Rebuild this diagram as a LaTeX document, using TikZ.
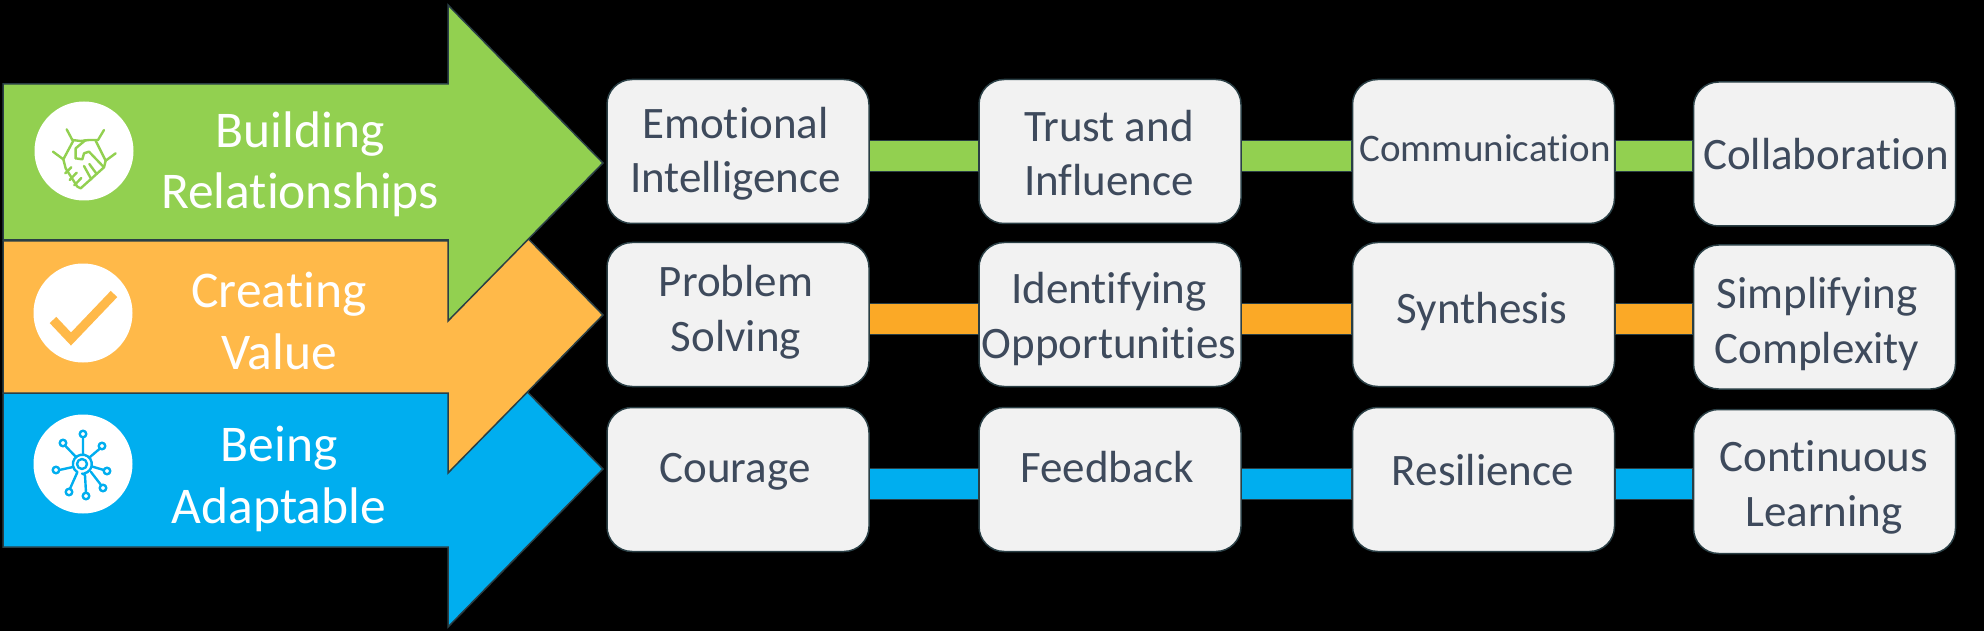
\documentclass[tikz,border=0pt]{standalone}
\usepackage{fontspec}
\setmainfont[Ligatures=NoCommon]{Carlito}
\definecolor{grn}{HTML}{92D050}
\definecolor{org}{HTML}{FFB949}
\definecolor{orgbar}{HTML}{FBA926}
\definecolor{blu}{HTML}{00AEEF}
\definecolor{edge}{HTML}{2A3F45}
\definecolor{boxf}{HTML}{F2F2F2}
\definecolor{boxt}{HTML}{3E4A5C}
\tikzset{
  arrowshape/.style={draw=edge,line width=1.5pt,line join=miter},
  card/.style={draw=edge,line width=1.5pt,fill=boxf,rounded corners=25pt,minimum width=262pt,minimum height=144pt,inner sep=0pt},
  linkbar/.style={draw=edge,line width=1pt},
  cardtext/.style={text=boxt,align=center,font=\fontsize{45}{54.5}\selectfont,inner sep=0pt,anchor=base},
  smalltext/.style={text=boxt,align=center,font=\fontsize{39}{44}\selectfont,inner sep=0pt,anchor=base},
  headtext/.style={text=white,align=center,font=\fontsize{51.5}{62}\selectfont,inner sep=0pt,anchor=base},
  disc/.style={fill=white,draw=none,circle,minimum size=99pt,inner sep=0pt},
  icon/.style={line width=2.4pt,line cap=round,line join=round},
}
\newcommand{\bararrow}[4]{%
  \path[arrowshape,fill=#1] (3,#2) -- (448,#2) -- (448,#4-158) -- (603,#4) -- (448,#4+158) -- (448,#3) -- (3,#3) -- cycle;}
\newcommand{\linkbar}[5]{%
  \coordinate (p#2#3) at (0,#4); \coordinate (q#2#3) at (0,#5);
  \path[linkbar,fill=#1] (#2.east |- p#2#3) rectangle (#3.west |- q#2#3);}
\begin{document}
\begin{tikzpicture}[x=1pt,y=-1pt]
\useasboundingbox (0,0) rectangle (1984,631);
\fill[black] (0,0) rectangle (1984,631);
% arrows, lowest first
\bararrow{blu}{393}{547}{469}
\bararrow{org}{241}{393}{315}
\bararrow{grn}{84}{240}{163}
% cards
\node[card] (a1) at (738,151.5) {};
\node[card] (b1) at (1110,151.5) {};
\node[card] (c1) at (1483.5,151.5) {};
\node[card] (d1) at (1824.5,154) {};
\node[card] (a2) at (738,314.5) {};
\node[card] (b2) at (1110,314.5) {};
\node[card] (c2) at (1483.5,314.5) {};
\node[card] (d2) at (1824.5,317) {};
\node[card] (a3) at (738,479.5) {};
\node[card] (b3) at (1110,479.5) {};
\node[card] (c3) at (1483.5,479.5) {};
\node[card] (d3) at (1824.5,481.5) {};
% connecting bars
\linkbar{grn}{a1}{b1}{141}{172}
\linkbar{grn}{b1}{c1}{141}{172}
\linkbar{grn}{c1}{d1}{141}{172}
\linkbar{orgbar}{a2}{b2}{303}{334}
\linkbar{orgbar}{b2}{c2}{303}{334}
\linkbar{orgbar}{c2}{d2}{303}{334}
\linkbar{blu}{a3}{b3}{468}{499}
\linkbar{blu}{b3}{c3}{468}{499}
\linkbar{blu}{c3}{d3}{468}{499}
% card texts (anchored on the baseline of the last line)
\node[cardtext] (ta1) at (735.5,193) {Emotional\\Intelligence};
\node[cardtext] (tb1) at (1109,196) {Trust and\\Influence};
\node[smalltext] (tc1) at (1485,162) {Communication};
\node[cardtext] (td1) at (1826,170) {Collaboration};
\node[cardtext] (ta2) at (736,351) {Problem\\Solving};
\node[cardtext] (tb2) at (1109,358) {Identifying\\Opportunities};
\node[cardtext] (tc2) at (1482,323) {Synthesis};
\node[cardtext] (td2) at (1817,363) {Simplifying\\Complexity};
\node[cardtext] (ta3) at (735,482) {Courage};
\node[cardtext] (tb3) at (1107,482) {Feedback};
\node[cardtext] (tc3) at (1483,485) {Resilience};
\node[cardtext] (td3) at (1824,526) {Continuous\\Learning};
% arrow titles
\node[headtext] (t1) at (300,209) {Building\\Relationships};
\node[headtext] (t2) at (279,369) {Creating\\Value};
\node[headtext] (t3) at (279,523) {Being\\Adaptable};
% icon discs
\node[disc] (i1) at (84,151) {};
\node[disc] (i2) at (83,313) {};
\node[disc] (i3) at (83,464) {};
% handshake
\begin{scope}[shift={(i1.center)},x=0.3333pt,y=-0.3333pt,shift={(-190,-183)},draw=grn,icon]
  \draw (138,118) -- (155,150) -- (180,153) -- (205,150) -- (232,150) -- (250,120);
  \draw (97,185) -- (128,208) -- (158,152);
  \draw (285,190) -- (255,212) -- (225,152);
  \draw (165,205) -- (165,175) -- (195,150);
  \draw (165,205) -- (185,208) -- (190,190) -- (205,185) -- (250,232);
  \draw (128,208) -- (135,235) -- (170,290) -- (180,295) -- (250,232) -- (255,212);
  \draw (152,232) -- (134,250) (168,248) -- (147,270) (182,264) -- (161,286);
  \draw (190,228) -- (212,268) (206,222) -- (228,252);
\end{scope}
% tick
\draw[org,line width=9pt,line join=miter] ([shift={(-30,7)}]i2.center) -- ([shift={(-12,26)}]i2.center) -- ([shift={(31,-19)}]i2.center);
% network
\begin{scope}[shift={(i3.center)},draw=blu,icon]
  \draw (-1,0) circle (5);
  \draw (1,9.5) arc (80:-240:9.5);
  \foreach \x/\y in {0/-30,-20/-21,19/-18,-27/6,24/7,-14/28,3/32,20/24}{
    \draw (\x,\y) circle (3.3);
  }
  \draw (0,-26.7) -- (0,-10) (-18,-18.5) -- (-7,-7) (17,-15.5) -- (7,-7);
  \draw (-23.7,6) -- (-10,3) (20.7,6) -- (9,2.5);
  \draw (-13,24.7) -- (-6,9) (3,28.7) -- (2,11) -- (-1,9.5) (18,21) -- (8,8);
\end{scope}
\end{tikzpicture}
\end{document}
